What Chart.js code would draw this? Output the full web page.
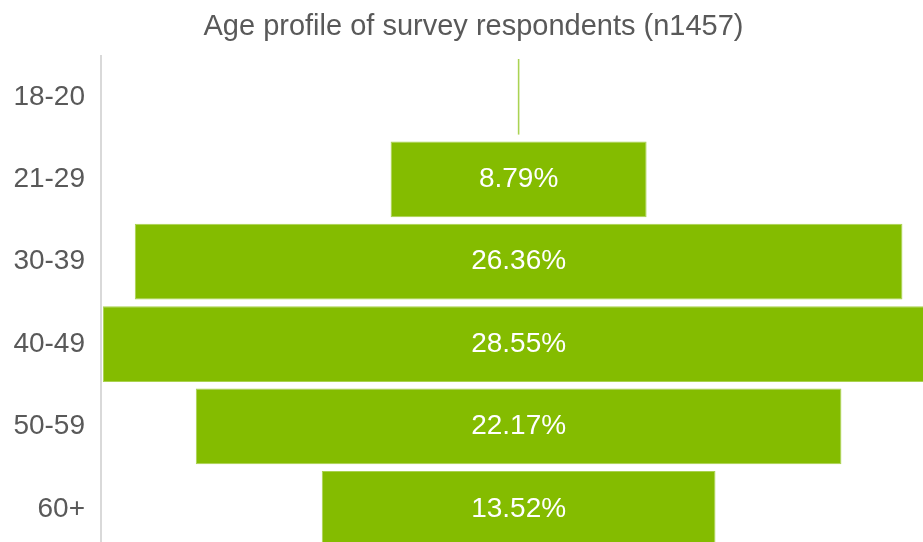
<!DOCTYPE html>
<html lang="en">
<head>
    <meta charset="UTF-8">
    <title>Age profile of survey respondents</title>
    <style>
        body {
            margin: 0;
            padding: 0;
            background: #fff;
        }

        .chart-wrap {
            width: 923px;
            height: 542px;
            overflow: hidden;
        }
    </style>
</head>
<body>
    <div class="chart-wrap">
        <canvas id="ageChart" width="947" height="550"></canvas>
    </div>

    <script src="https://cdn.jsdelivr.net/npm/chart.js"></script>
    <script>
        // Age groups and share of respondents (%)
        const ageGroups = ['18-20', '21-29', '30-39', '40-49', '50-59', '60+'];
        const sharePct = [0.07, 8.79, 26.36, 28.55, 22.17, 13.52];

        const barColor = '#84bc00';
        const textGrey = '#595959';

        Chart.defaults.font.family = "'Liberation Sans', Arial, sans-serif";

        // Write the percentage in the middle of each bar
        const centreLabels = {
            id: 'centreLabels',
            afterDatasetsDraw(chart) {
                const ctx = chart.ctx;
                const meta = chart.getDatasetMeta(0);
                ctx.save();
                ctx.fillStyle = '#ffffff';
                ctx.font = "28px 'Liberation Sans', Arial, sans-serif";
                ctx.textAlign = 'center';
                ctx.textBaseline = 'middle';
                meta.data.forEach((bar, i) => {
                    if (sharePct[i] < 1) return;
                    const pt = bar.getCenterPoint();
                    ctx.fillText(sharePct[i].toFixed(2) + '%', pt.x, pt.y);
                });
                ctx.restore();
            }
        };

        const ctx = document.getElementById('ageChart').getContext('2d');
        new Chart(ctx, {
            type: 'bar',
            data: {
                labels: ageGroups,
                datasets: [{
                    data: sharePct.map(v => [-v / 2, v / 2]),
                    backgroundColor: barColor,
                    borderColor: '#a9d24f',
                    borderWidth: 1,
                    borderSkipped: false,
                    barPercentage: 0.92,
                    categoryPercentage: 1
                }]
            },
            options: {
                indexAxis: 'y',
                responsive: false,
                animation: false,
                layout: { padding: 0 },
                plugins: {
                    legend: { display: false },
                    tooltip: { enabled: false },
                    title: {
                        display: true,
                        text: 'Age profile of survey respondents (n1457)',
                        color: textGrey,
                        font: { size: 29, weight: 'normal' },
                        padding: { top: 10, bottom: 11 }
                    }
                },
                scales: {
                    x: {
                        display: false,
                        min: -14.34,
                        max: 14.71
                    },
                    y: {
                        grid: { display: false, drawTicks: false },
                        border: { color: '#d9d9d9', width: 2 },
                        ticks: {
                            color: textGrey,
                            font: { size: 28 },
                            padding: 16
                        },
                        afterFit: scale => {
                            scale.width = 101;
                            scale.paddingTop = 0;
                            scale.paddingBottom = 0;
                        }
                    }
                }
            },
            plugins: [centreLabels]
        });
    </script>
</body>
</html>
